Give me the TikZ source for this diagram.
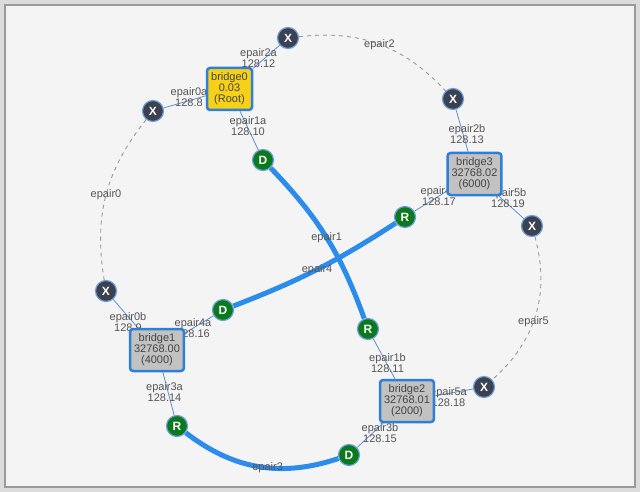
\documentclass[tikz,border=0pt]{standalone}
\usepackage{fontspec}
\setmainfont{Liberation Sans}
\usetikzlibrary{backgrounds}
\definecolor{pagegray}{HTML}{F4F4F4}
\definecolor{framegray}{HTML}{9A9A9A}
\definecolor{rootgold}{HTML}{F7D117}
\definecolor{bridgegray}{HTML}{C2C2C2}
\definecolor{bridgeblue}{HTML}{2F7FD9}
\definecolor{portdark}{HTML}{3B4150}
\definecolor{portgreen}{HTML}{0B7A1C}
\definecolor{portring}{HTML}{6E9ED8}
\definecolor{linkblue}{HTML}{2B8CEB}
\definecolor{stubblue}{HTML}{5B90CF}
\definecolor{labelgray}{HTML}{555555}

\begin{document}
\begin{tikzpicture}[x=1pt, y=-1pt, font=\fontsize{11}{11}\selectfont]
    \tikzstyle{bridge}  = [rectangle, draw=bridgeblue, line width=2.5, rounded corners=3, fill=bridgegray, text=labelgray!80!black, align=center, inner sep=4, minimum width=45, minimum height=42]
    \tikzstyle{blocked} = [circle, fill=portdark, draw=portring, line width=1.2, minimum size=21, inner sep=0, text=white, font={\fontsize{12}{12}\selectfont\bfseries}]
    \tikzstyle{fwd}     = [blocked, fill=portgreen]
    \tikzstyle{port}    = [text=labelgray, align=center, inner sep=0]
    \tikzstyle{stub}    = [draw=stubblue, line width=0.8]
    \tikzstyle{alt}     = [draw=framegray, line width=0.9, dash pattern=on 4 off 4]
    \tikzstyle{active}  = [draw=linkblue, line width=5]
    \tikzstyle{seg}     = [midway, text=labelgray, inner sep=0]

    \useasboundingbox (0,0) rectangle (640,492);

    % bridges
    \node[bridge, fill=rootgold] (b0) at (229.5,89)  {bridge0\\0.03\\(Root)};
    \node[bridge]                (b3) at (474.5,174) {bridge3\\32768.02\\(6000)};
    \node[bridge]                (b1) at (157,350)   {bridge1\\32768.00\\(4000)};
    \node[bridge]                (b2) at (407,401)   {bridge2\\32768.01\\(2000)};

    % ports
    \node[blocked] (x2a) at (288,38)  {X};
    \node[blocked] (x0a) at (153,111) {X};
    \node[blocked] (x2b) at (453,99)  {X};
    \node[blocked] (x5b) at (532,226) {X};
    \node[blocked] (x0b) at (106,291) {X};
    \node[blocked] (x5a) at (484,387) {X};
    \node[fwd]     (d1a) at (263,160) {D};
    \node[fwd]     (r4b) at (405,217) {R};
    \node[fwd]     (d4a) at (223,310) {D};
    \node[fwd]     (r1b) at (368,329) {R};
    \node[fwd]     (r3a) at (177,426) {R};
    \node[fwd]     (d3b) at (349,455) {D};

    \begin{scope}[on background layer]
        \fill[framegray!35] (0,0) rectangle (640,492);
        \draw[framegray, line width=1.5, fill=pagegray] (5,5) rectangle (635,487);

        \foreach \b/\p in {b0/x2a, b0/x0a, b0/d1a, b3/x2b, b3/r4b, b3/x5b,
                           b1/x0b, b1/d4a, b1/r3a, b2/r1b, b2/x5a, b2/d3b}
            \draw[stub] (\b) -- (\p);

        % port names
        \node[port] (l2a) at (258.5,58) {epair2a\\128.12};
        \node[port] (l0a) at (189,97)   {epair0a\\128.8};
        \node[port] (l1a) at (248,126)  {epair1a\\128.10};
        \node[port] (l2b) at (467,134)  {epair2b\\128.13};
        \node[port] (l4b) at (439,196)  {epair4b\\128.17};
        \node[port] (l5b) at (508,198)  {epair5b\\128.19};
        \node[port] (l0b) at (128,322)  {epair0b\\128.9};
        \node[port] (l4a) at (193,328)  {epair4a\\128.16};
        \node[port] (l3a) at (164.5,392) {epair3a\\128.14};
        \node[port] (l1b) at (387.5,363) {epair1b\\128.11};
        \node[port] (l5a) at (448.5,397) {epair5a\\128.18};
        \node[port] (l3b) at (380,433)  {epair3b\\128.15};

        % segments
        \draw[alt]    (x2a) to[bend left=27]  node[seg] (s2) {epair2} (x2b);
        \draw[alt]    (x0a) to[bend right=24] node[seg] (s0) {epair0} (x0b);
        \draw[alt]    (x5b) to[bend left=32]  node[seg, pos=0.55] (s5) {epair5} (x5a);
        \draw[active] (d1a) to[bend left=12]  node[seg] (s1) {epair1} (r1b);
        \draw[active] (r4b) to[bend left=6]   node[seg] (s4) {epair4} (d4a);
        \draw[active] (r3a) to[bend right=28] node[seg, pos=0.56] (s3) {epair3} (d3b);
    \end{scope}
\end{tikzpicture}
\end{document}
